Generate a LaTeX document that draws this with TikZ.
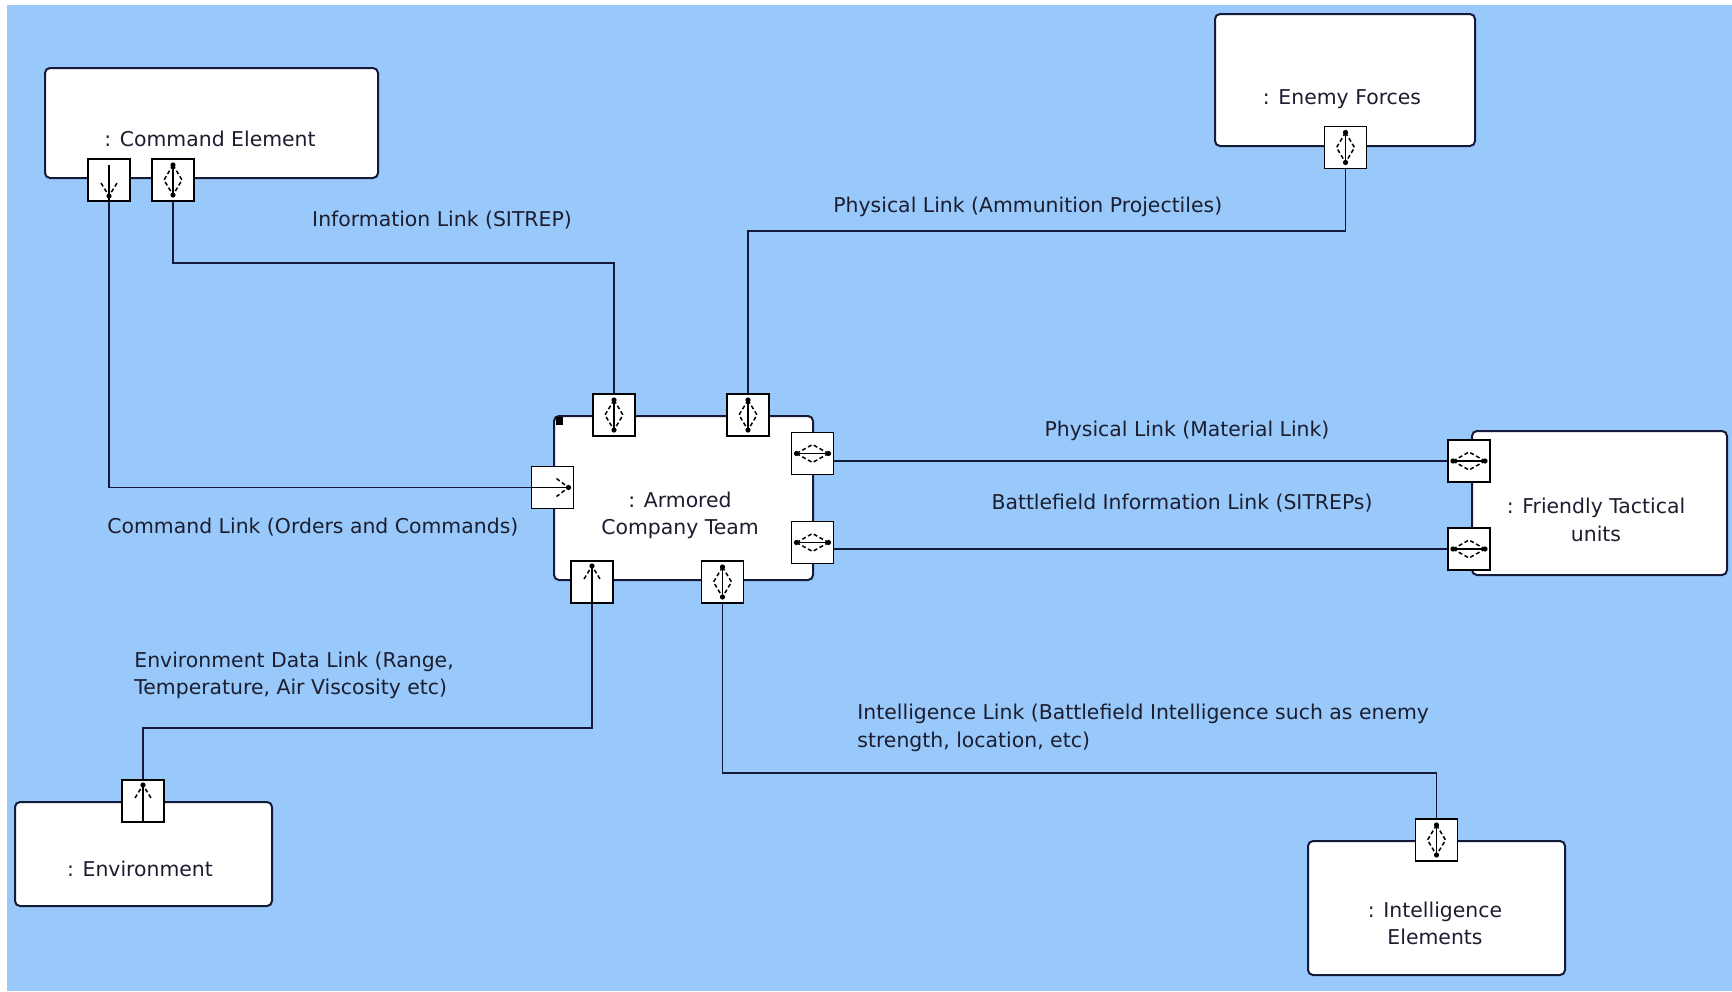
\documentclass[tikz,border=0pt]{standalone}
\usepackage{fontspec}
\setmainfont{DejaVu Sans}
\definecolor{bg}{RGB}{152,201,250}
\definecolor{ln}{RGB}{22,26,58}
\definecolor{tx}{RGB}{28,30,48}
\begin{document}
\begin{tikzpicture}[x=0.5pt,y=-0.5pt,
  box/.style={draw=ln, line width=1pt, fill=white, rounded corners=2.5pt, inner sep=0pt},
  port/.style={draw=black, line width=0.8pt, fill=white, minimum size=21pt, inner sep=0pt},
  lbl/.style={text=tx, font=\fontsize{10.2}{13}\selectfont, inner sep=0pt},
  conn/.style={draw=ln, line width=0.9pt},
  gl/.style={line width=0.75pt, draw=black},
  gd/.style={gl, dash pattern=on 2pt off 1.3pt},
  vbi/.pic={\draw[gl] (0,-15)--(0,15);
            \draw[gd] (0,-15)--(-9,0)--(0,15) (0,-15)--(9,0)--(0,15);
            \fill (0,-15) circle (1.3pt) (0,15) circle (1.3pt);},
  hbi/.pic={\draw[gl] (-16,0)--(16,0);
            \draw[gd] (-16,0)--(0,-9)--(16,0) (-16,0)--(0,9)--(16,0);
            \fill (-16,0) circle (1.3pt) (16,0) circle (1.3pt);},
  dnar/.pic={\draw[gl] (0,-15)--(0,21);
            \draw[gd] (-8,3)--(0,16)--(8,3);
            \fill (0,16) circle (1.3pt);},
  upar/.pic={\draw[gl] (0,21)--(0,-16);
            \draw[gd] (-8,-3)--(0,-16)--(8,-3);
            \fill (0,-16) circle (1.3pt);},
  rtar/.pic={\draw[gl] (-22,0)--(16,0);
            \draw[gd] (4,-9)--(16,0)--(4,9);
            \fill (16,0) circle (1.3pt);}
]
\useasboundingbox (0,0) rectangle (1732,991);
\fill[white] (0,0) rectangle (1732,991);
\fill[bg] (7,5) rectangle (1732,991);

% boxes
\node[box, minimum width=166.5pt, minimum height=55pt] (cmd) at (211.5,123) {};
\node[box, minimum width=130pt, minimum height=66pt] (enemy) at (1345,80) {};
\node[box, minimum width=129.5pt, minimum height=82pt] (arm) at (683.5,498) {};
\node[box, minimum width=127.5pt, minimum height=72pt] (fr) at (1599.5,503) {};
\node[box, minimum width=128.5pt, minimum height=52pt] (env) at (143.5,854) {};
\node[box, minimum width=128.5pt, minimum height=67pt] (intel) at (1436.5,908) {};
\fill[black] (556,417) rectangle (563,425);

% box texts
\node[lbl, anchor=base] (cmdt) at (210,146) {: Command Element};
\node[lbl, anchor=base] (enemyt) at (1342,104) {: Enemy Forces};
\node[lbl, anchor=base] (armt1) at (680,507) {: Armored};
\node[lbl, anchor=base] (armt2) at (680,534) {Company Team};
\node[lbl, anchor=base] (frt1) at (1596,513) {: Friendly Tactical};
\node[lbl, anchor=base] (frt2) at (1596,541) {units};
\node[lbl, anchor=base] (envt) at (140,876) {: Environment};
\node[lbl, anchor=base] (intelt1) at (1435,917) {: Intelligence};
\node[lbl, anchor=base] (intelt2) at (1435,944) {Elements};

% connectors
\coordinate (j1) at (614,263);
\coordinate (j2) at (748,231);
\coordinate (j3) at (592,728);
\coordinate (j4) at (722.5,773);

% ports
\node[port] (cp1) at (109,180) {};
\node[port] (cp2) at (173,180) {};
\node[port] (at1) at (614,415) {};
\node[port] (at2) at (748,415) {};
\node[port] (ar1) at (812.5,453.5) {};
\node[port] (ar2) at (812.5,542.5) {};
\node[port] (al) at (552.5,487.5) {};
\node[port] (ab1) at (592,582) {};
\node[port] (ab2) at (722.5,582) {};
\node[port] (ep) at (1345.5,147.5) {};
\node[port] (fp1) at (1469,461) {};
\node[port] (fp2) at (1469,549) {};
\node[port] (envp) at (143,801) {};
\node[port] (ip) at (1436.5,840) {};

\draw[conn] (cp1.south) |- (al.west);
\draw[conn] (cp2.south) |- (j1) -- (at1.north);
\draw[conn] (at2.north) -- (j2) -| (ep.south);
\draw[conn] (fp1.west) -- (fp1.west -| ar1.east);
\draw[conn] (fp2.west) -- (fp2.west -| ar2.east);
\draw[conn] (ab1.south) -- (j3) -| (envp.north);
\draw[conn] (ab2.south) -- (j4) -| (ip.north);

% glyphs
\pic at (cp1.center) {dnar};
\pic at (cp2.center) {vbi};
\pic at (at1.center) {vbi};
\pic at (at2.center) {vbi};
\pic at (ar1.center) {hbi};
\pic at (ar2.center) {hbi};
\pic at (al.center) {rtar};
\pic at (ab1.center) {upar};
\pic at (ab2.center) {vbi};
\pic at (ep.center) {vbi};
\pic at (fp1.center) {hbi};
\pic at (fp2.center) {hbi};
\pic at (envp.center) {upar};
\pic at (ip.center) {vbi};

% connector labels
\node[lbl, anchor=base] (l1) at (442,226) {Information Link (SITREP)};
\node[lbl, anchor=base west] (l2) at (833,212) {Physical Link (Ammunition Projectiles)};
\node[lbl, anchor=base] (l3) at (1187,436) {Physical Link (Material Link)};
\node[lbl, anchor=base] (l4) at (1182,509) {Battlefield Information Link (SITREPs)};
\node[lbl, anchor=base west] (l5) at (107,533) {Command Link (Orders and Commands)};
\node[lbl, anchor=base west] (l6a) at (134,667) {Environment Data Link (Range,};
\node[lbl, anchor=base west] (l6b) at (134,694) {Temperature, Air Viscosity etc)};
\node[lbl, anchor=base west] (l7a) at (857,719) {Intelligence Link (Battlefield Intelligence such as enemy};
\node[lbl, anchor=base west] (l7b) at (857,747) {strength, location, etc)};
\end{tikzpicture}
\end{document}
